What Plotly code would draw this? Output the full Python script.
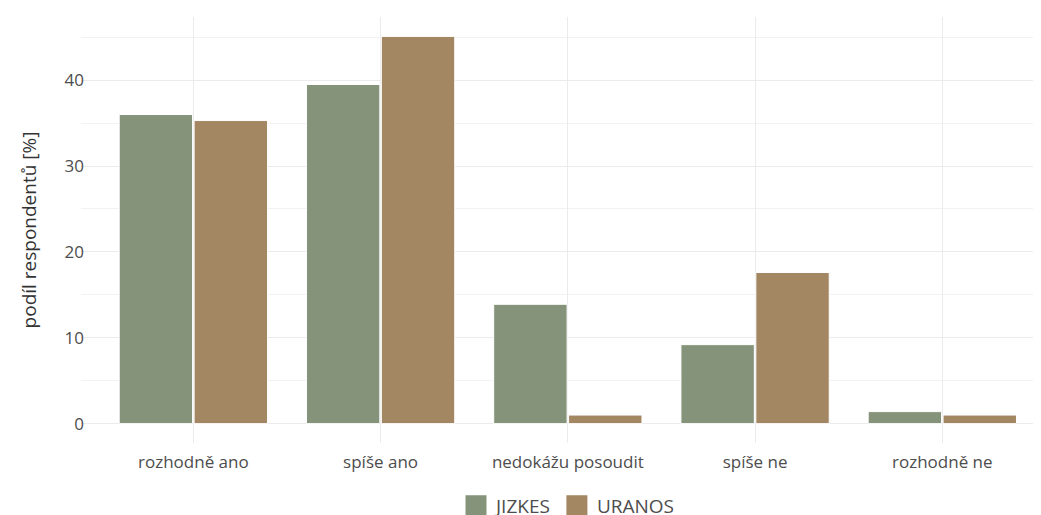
import plotly.graph_objects as go

categories = ["rozhodně ano", "spíše ano", "nedokážu posoudit", "spíše ne", "rozhodně ne"]
series_names = ["JIZKES", "URANOS"]
jizkes = [36.0, 39.5, 13.9, 9.2, 1.4]
uranos = [35.3, 45.1, 1.0, 17.6, 1.0]
y_ticks = [0, 10, 20, 30, 40]
colors = ["#84937A", "#A38662"]

FONT = "Open Sans"
fig = go.Figure()
for name, vals, col in zip(series_names, [jizkes, uranos], colors):
    fig.add_trace(go.Bar(x=categories, y=vals, name=name, showlegend=False,
                         marker=dict(color=col, line=dict(color="white", width=1))))
# legend entries with larger square keys
for name, col in zip(series_names, colors):
    fig.add_trace(go.Scatter(x=[None], y=[None], mode="markers", name=name,
                             marker=dict(symbol="square", size=16, color=col,
                                         line=dict(color=col, width=5))))

# page body has an 8px margin, so the figure is offset by 8px right and down
fig.update_layout(
    width=1033, height=507,
    margin=dict(l=73, r=0, t=9, b=71.6),
    paper_bgcolor="white", plot_bgcolor="white",
    barmode="group", bargap=0.2, bargroupgap=0.02,
    font=dict(family=FONT, size=17, color="#4D4D4D"),
    showlegend=True,
    legend=dict(orientation="h", x=(568 - 81) / 960, xanchor="center",
                yref="container", y=0.018, yanchor="middle",
                font=dict(size=19, color="#4D4D4D"), itemwidth=30, tracegroupgap=0),
)
fig.update_xaxes(range=[-0.6, 4.527], showgrid=True, gridcolor="#EBEBEB", gridwidth=1.4,
                 zeroline=False, showline=False, ticks="", automargin=False,
                 ticklabelstandoff=7,
                 tickfont=dict(size=17, color="#4D4D4D"))
fig.update_yaxes(range=[-2.255, 47.36], tickvals=y_ticks, showgrid=True, gridcolor="#EBEBEB",
                 gridwidth=1.4, zeroline=False, showline=False, ticks="", automargin=False,
                 minor=dict(dtick=5, showgrid=True, gridcolor="#F2F2F2", gridwidth=0.9),
                 tickfont=dict(size=17, color="#4D4D4D"), ticklabelstandoff=-4,
                 title=dict(text="podíl respondentů [%]", font=dict(size=19, color="#333333"), standoff=22))

fig.write_html("out.html")
